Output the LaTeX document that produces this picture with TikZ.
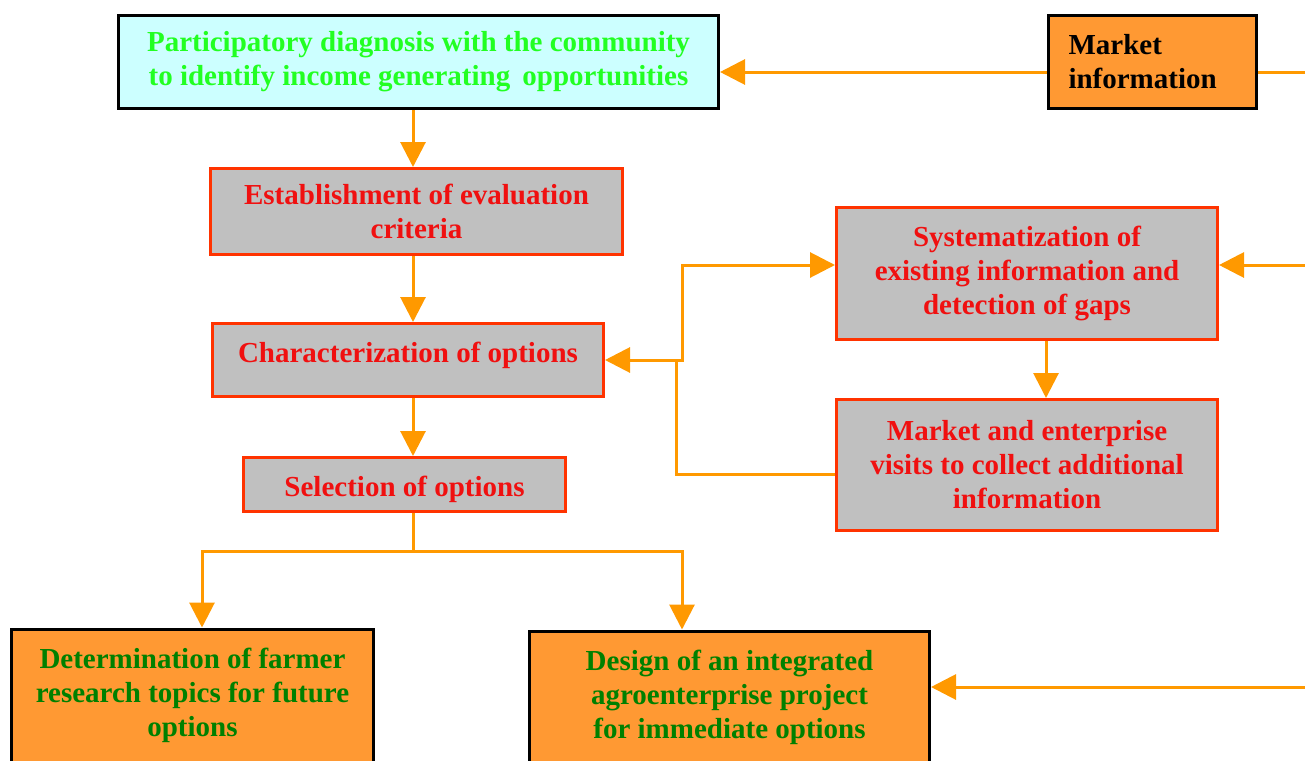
\documentclass[tikz,border=0pt]{standalone}
\usepackage{fontspec}
\setmainfont{Liberation Serif}
\usetikzlibrary{arrows.meta}
\definecolor{orangefill}{HTML}{FF9933}
\definecolor{linecol}{HTML}{FF9900}
\definecolor{cyanfill}{HTML}{CCFFFF}
\definecolor{brightgreen}{HTML}{22FF22}
\definecolor{darkgreen}{HTML}{008000}
\definecolor{grayfill}{HTML}{C0C0C0}
\definecolor{boxred}{HTML}{FF3300}
\definecolor{textred}{HTML}{F01010}
\tikzset{
  txt/.style={font=\fontsize{29}{34}\selectfont\bfseries, align=center},
  graybox/.style={draw=boxred, line width=3pt, fill=grayfill, text=textred, txt, inner sep=0pt},
  blackbox/.style={draw=black, line width=3pt, inner sep=0pt},
  line/.style={draw=linecol, line width=3pt},
  conn/.style={line, -{Triangle[length=25pt,width=25pt]}},
}
\begin{document}
\begin{tikzpicture}[x=1pt,y=-1pt]
\useasboundingbox (0,0) rectangle (1305,760);
\clip (0,0) rectangle (1305,760);

% nodes
\node[blackbox, fill=cyanfill, text=brightgreen, txt, minimum width=600pt, minimum height=93pt] (P) at (418.5,62)
  {Participatory diagnosis with the community\\to identify income generating\, opportunities};
\node[blackbox, fill=orangefill, text=black, txt, align=left, text width=168pt, minimum width=208pt, minimum height=93pt] (M) at (1152.5,62)
  {Market\\information};
\node[graybox, minimum width=412pt, minimum height=86pt] (E) at (416.5,211.5)
  {Establishment of evaluation\\criteria};
\node[graybox, text height=20pt, text depth=15pt, minimum width=391pt, minimum height=73pt] (C) at (408,360)
  {Characterization of options};
\node[graybox, text height=24pt, text depth=0pt, minimum width=322pt, minimum height=54pt] (S) at (404.5,484.5)
  {Selection of options};
\node[graybox, minimum width=381pt, minimum height=132pt] (Sy) at (1027,273.5)
  {Systematization of\\existing information and\\detection of gaps};
\node[graybox, minimum width=381pt, minimum height=131pt] (Mk) at (1027,465)
  {Market and enterprise\\visits to collect additional\\information};
\node[blackbox, fill=orangefill, minimum width=362pt, minimum height=171pt] (D) at (192.5,714.5) {};
\node[txt, text=darkgreen] (Dt) at (192.5,695)
  {Determination of farmer\\research topics for future\\options};
\node[blackbox, fill=orangefill, minimum width=400pt, minimum height=169pt] (G) at (729.5,715.5) {};
\node[txt, text=darkgreen] (Gt) at (729.5,697)
  {Design of an integrated\\agroenterprise project\\for immediate options};

% helper coordinates
\coordinate (colx) at (413,0);
\coordinate (rm) at (1305,72);
\coordinate (rs) at (1305,265);
\coordinate (rd) at (1305,687);
\coordinate (split) at (413,551);
\coordinate (bl) at (202,551);
\coordinate (br) at (682,551);
\coordinate (vx) at (1046,0);
\coordinate (j1) at (682,360);
\coordinate (j2) at (676,474);

% connectors
\draw[conn] (M.west |- rm) -- (P.east |- rm);
\draw[line] (M.east |- rm) -- (rm);
\draw[conn] (P.south -| colx) -- (E.north -| colx);
\draw[conn] (E.south -| colx) -- (C.north -| colx);
\draw[conn] (C.south -| colx) -- (S.north -| colx);
\draw[line] (S.south -| colx) -- (split);
\draw[conn] (split) -- (bl) -- (bl |- D.north);
\draw[conn] (split) -- (br) -- (br |- G.north);
\draw[conn] (rs) -- (rs -| Sy.east);
\draw[conn] (rd) -- (rd -| G.east);
\draw[conn] (Sy.south -| vx) -- (Mk.north -| vx);
\draw[conn] (j2 -| Mk.west) -- (j2) -- (j2 |- C.east) -- (C.east);
\draw[conn] (j2 |- C.east) -- (j1) -- (j1 |- rs) -- (rs -| Sy.west);
\end{tikzpicture}
\end{document}
